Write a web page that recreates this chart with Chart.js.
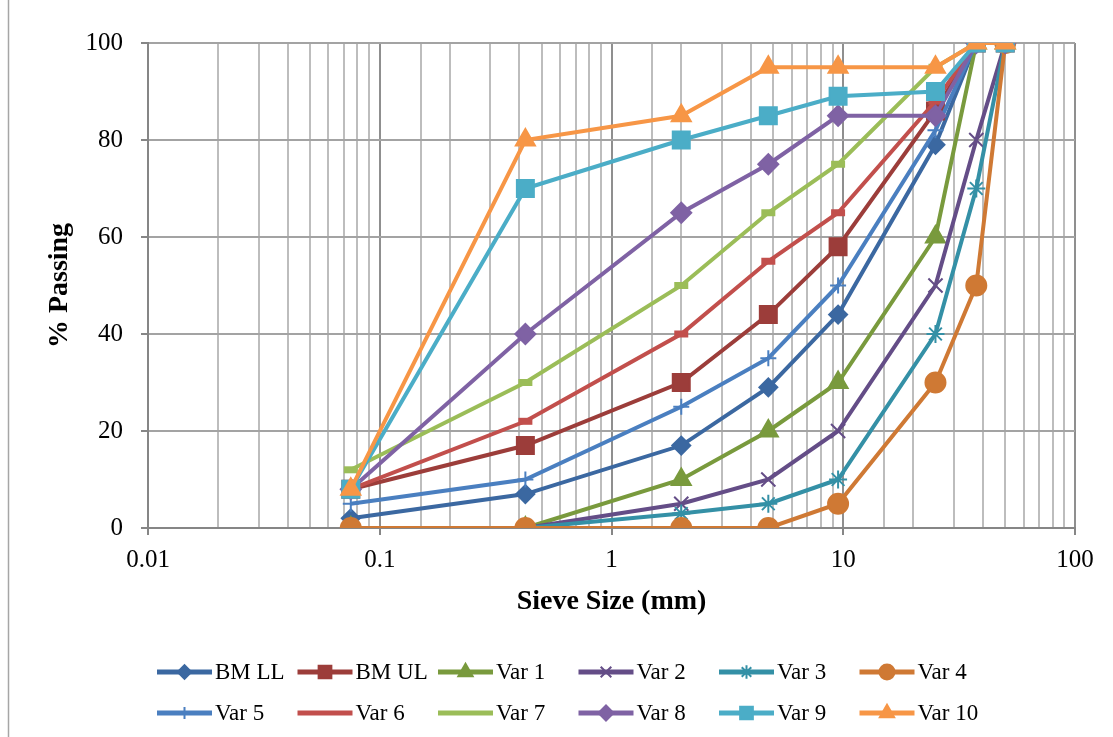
<!DOCTYPE html>
<html>
<head>
<meta charset="utf-8">
<title>Sieve analysis</title>
<script src="https://cdn.jsdelivr.net/npm/chart.js@4.4.0/dist/chart.umd.min.js"></script>
<style>
  html, body { margin: 0; padding: 0; background: #fff; }
  #wrap { width: 1113px; height: 737px; }
</style>
</head>
<body>
<div id="wrap"><canvas id="chGrading" width="1113" height="737"></canvas></div>
<script>
// sieve sizes (mm) and % passing for each grading
var sieveSizes = [0.075, 0.425, 2, 4.75, 9.5, 25, 37.5, 50];
var bmLL  = [2, 7, 17, 29, 44, 79, 100, 100];
var bmUL  = [8, 17, 30, 44, 58, 86, 100, 100];
var var1  = [0, 0, 10, 20, 30, 60, 100, 100];
var var2  = [0, 0, 5, 10, 20, 50, 80, 100];
var var3  = [0, 0, 3, 5, 10, 40, 70, 100];
var var4  = [0, 0, 0, 0, 5, 30, 50, 100];
var var5  = [5, 10, 25, 35, 50, 82, 100, 100];
var var6  = [8, 22, 40, 55, 65, 88, 100, 100];
var var7  = [12, 30, 50, 65, 75, 95, 100, 100];
var var8  = [8, 40, 65, 75, 85, 85, 100, 100];
var var9  = [8, 70, 80, 85, 89, 90, 100, 100];
var var10 = [8, 80, 85, 95, 95, 95, 100, 100];

var seriesNames = ["BM LL", "BM UL", "Var 1", "Var 2", "Var 3", "Var 4",
                   "Var 5", "Var 6", "Var 7", "Var 8", "Var 9", "Var 10"];
var seriesValues = [bmLL, bmUL, var1, var2, var3, var4,
                    var5, var6, var7, var8, var9, var10];

// chart colors + markers
var colors = ["#3B68A1", "#9C3D3A", "#799A3D", "#644D87", "#3490A6", "#CF7934",
              "#4A7FC0", "#C24F4C", "#9BBD58", "#7F62A4", "#4BADC7", "#F79646"];
var markers = [
  { style: "rectRot", r: 9 },
  { style: "rect", r: 12 },
  { style: "triangle", r: 11 },
  { style: "crossRot", r: 10 },
  { style: "star", r: 9 },
  { style: "circle", r: 10 },
  { style: "cross", r: 8 },
  { style: "line", r: 7 },
  { style: "line", r: 7 },
  { style: "rectRot", r: 10 },
  { style: "rect", r: 12 },
  { style: "triangle", r: 11 }
];

Chart.defaults.font.family = "'Liberation Serif', 'Times New Roman', serif";
Chart.defaults.color = "#000";

var datasets = seriesNames.map(function (name, i) {
  var m = markers[i];
  var lineMarker = m.style === "line";
  return {
    label: name,
    data: sieveSizes.map(function (s, j) { return { x: s, y: seriesValues[i][j] }; }),
    showLine: true,
    borderColor: colors[i],
    backgroundColor: colors[i],
    borderWidth: 4,
    pointStyle: m.style,
    pointRadius: m.r,
    pointHoverRadius: m.r,
    pointBackgroundColor: colors[i],
    pointBorderColor: colors[i],
    pointBorderWidth: lineMarker ? 7 : 2,
    order: seriesNames.length - i   // later series on top, like the original
  };
});

function isDecade(v) {
  var l = Math.log10(v);
  return Math.abs(l - Math.round(l)) < 1e-6;
}

// outer frame of the chart area (only the left edge shows)
var framePlugin = {
  id: "frame",
  beforeDraw: function (chart) {
    var ctx = chart.ctx;
    ctx.save();
    ctx.fillStyle = "#fff";
    ctx.fillRect(0, 0, chart.width, chart.height);
    ctx.strokeStyle = "#A6A6A6";
    ctx.lineWidth = 1.5;
    ctx.strokeRect(8.5, -5, chart.width + 20, chart.height + 20);
    ctx.restore();
  }
};

// legend with line + marker sample, laid out in fixed columns
var legendPlugin = {
  id: "lineLegend",
  afterDraw: function (chart) {
    var ctx = chart.ctx;
    var colW = 140.5, startX = 157, rowY = [672, 713], sample = 55;
    ctx.save();
    ctx.font = "23px 'Liberation Serif', 'Times New Roman', serif";
    ctx.textBaseline = "middle";
    ctx.textAlign = "left";
    chart.data.datasets.forEach(function (ds, i) {
      var col = i % 6, row = Math.floor(i / 6);
      var x = startX + col * colW, y = rowY[row];
      ctx.strokeStyle = ds.borderColor;
      ctx.fillStyle = ds.borderColor;
      ctx.lineWidth = 5;
      ctx.lineCap = "butt";
      ctx.beginPath();
      ctx.moveTo(x, y);
      ctx.lineTo(x + sample, y);
      ctx.stroke();
      if (ds.pointStyle !== "line") {
        ctx.lineWidth = 2;
        Chart.helpers.drawPoint(ctx, {
          pointStyle: ds.pointStyle,
          radius: ds.pointRadius * 0.75,
          rotation: 0,
          borderWidth: 2
        }, x + sample / 2, y);
      }
      ctx.fillStyle = "#000";
      ctx.fillText(ds.label, x + sample + 3, y + 1);
    });
    ctx.restore();
  }
};

new Chart(document.getElementById("chGrading"), {
  type: "scatter",
  data: { datasets: datasets },
  plugins: [framePlugin, legendPlugin],
  options: {
    responsive: false,
    animation: false,
    layout: { padding: { top: 43, right: 38, bottom: 118, left: 0 } },
    plugins: {
      legend: { display: false },
      tooltip: { enabled: false }
    },
    scales: {
      x: {
        type: "logarithmic",
        min: 0.01,
        max: 100,
        afterFit: function (scale) { scale.height = 91; },
        border: { color: "#868686", width: 2 },
        grid: {
          color: function (c) { return c.tick && isDecade(c.tick.value) ? "#8F8F8F" : "#BDBDBD"; },
          lineWidth: 2,
          tickLength: 7,
          tickColor: function (c) { return c.tick && isDecade(c.tick.value) ? "#868686" : "rgba(0,0,0,0)"; }
        },
        ticks: {
          autoSkip: false,
          maxRotation: 0,
          padding: 10,
          font: { size: 25 },
          callback: function (v) {
            return isDecade(v) ? String(Math.pow(10, Math.round(Math.log10(v)))) : "";
          }
        },
        title: {
          display: true,
          text: "Sieve Size (mm)",
          font: { size: 28, weight: "bold" },
          padding: { top: 0, bottom: 0 }
        }
      },
      y: {
        min: 0,
        max: 100,
        afterFit: function (scale) { scale.width = 148; },
        border: { color: "#868686", width: 2 },
        grid: {
          color: "#A3A3A3",
          lineWidth: 2,
          tickLength: 7,
          tickColor: "#868686"
        },
        ticks: {
          stepSize: 20,
          padding: 18,
          font: { size: 25 }
        },
        title: {
          display: true,
          text: "% Passing",
          font: { size: 28, weight: "bold" },
          padding: { top: 43, bottom: 0 }
        }
      }
    }
  }
});
</script>
</body>
</html>
